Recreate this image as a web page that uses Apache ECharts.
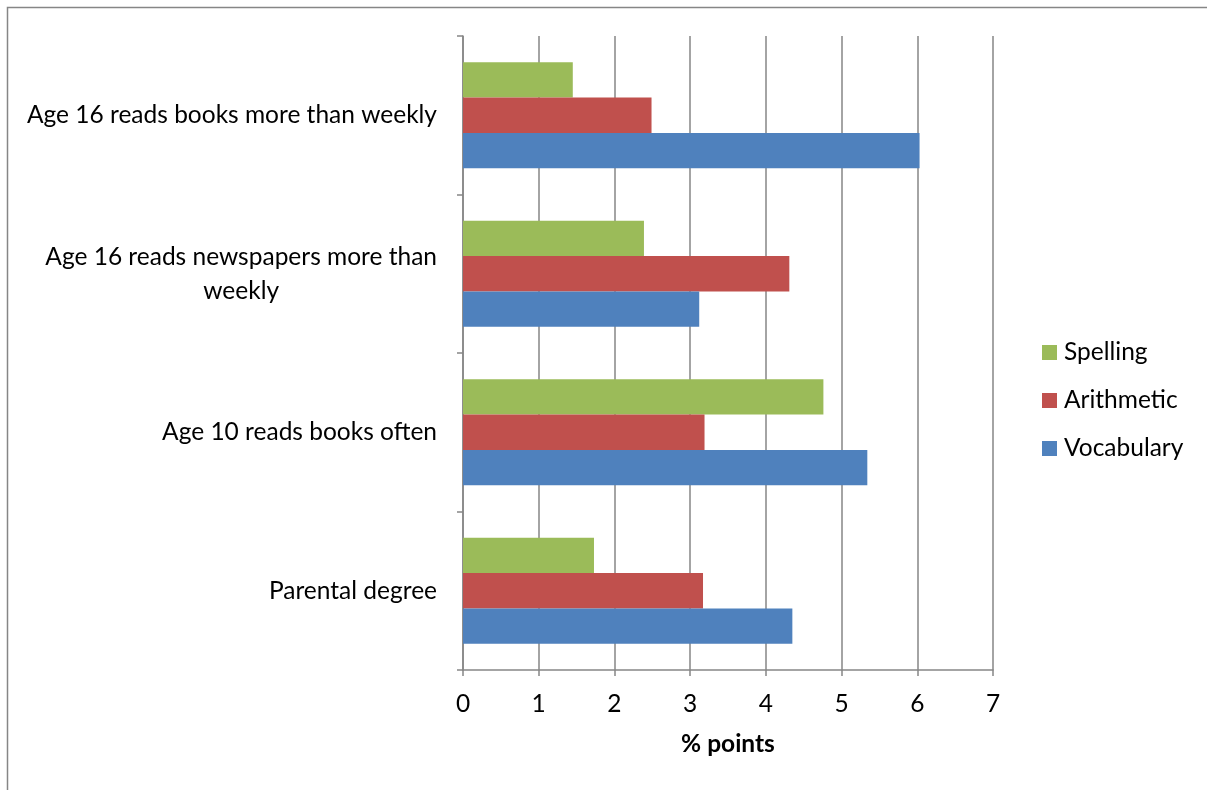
<!DOCTYPE html>
<html>
<head>
<meta charset="utf-8">
<script src="https://cdn.jsdelivr.net/npm/echarts@6/dist/echarts.min.js"></script>
<style>
  html, body { margin: 0; padding: 0; background: #fff; }
  #chart { width: 1207px; height: 790px; }
</style>
</head>
<body>
<div id="chart"></div>
<script>
// categories bottom to top
var categories = ['Parental degree', 'Age 10 reads books often', 'Age 16 reads newspapers more than weekly', 'Age 16 reads books more than weekly']
var vocabulary = [4.35, 5.34, 3.12, 6.03]
var arithmetic = [3.17, 3.19, 4.31, 2.49]
var spelling = [1.73, 4.76, 2.39, 1.45]
var legendNames = ['Spelling', 'Arithmetic', 'Vocabulary']

var FONT = 'Lato'
var FS = 24.5
var grey = '#868686'

var chart = echarts.init(document.getElementById('chart'))

var option = {
  animation: false,
  // first series is drawn on top within a category
  color: ['#9BBB59', '#C0504D', '#4F81BD'],
  textStyle: { fontFamily: FONT },
  graphic: [{
    type: 'rect',
    shape: { x: 7.5, y: 7.5, width: 1400, height: 1000 },
    style: { fill: 'none', stroke: grey, lineWidth: 1.5 },
    silent: true
  }],
  grid: { left: 463, right: 214, top: 36, bottom: 120 },
  legend: {
    orient: 'vertical',
    left: 1037,
    top: 335,
    itemWidth: 15,
    itemHeight: 15,
    itemGap: 23,
    icon: 'rect',
    data: legendNames,
    textStyle: { fontFamily: FONT, fontSize: FS, lineHeight: 24, color: '#000', padding: [0, 0, 0, 2] }
  },
  xAxis: {
    type: 'value',
    min: 0,
    max: 7,
    interval: 1,
    name: '% points',
    nameLocation: 'middle',
    nameGap: 62,
    nameTextStyle: { fontFamily: FONT, fontSize: FS, fontWeight: 'bold', color: '#000' },
    axisLine: { show: true, lineStyle: { color: grey, width: 1.5 } },
    axisTick: { show: true, length: 6, lineStyle: { color: grey, width: 1.5 } },
    axisLabel: { fontFamily: FONT, fontSize: FS, color: '#000', margin: 22 },
    splitLine: { show: true, lineStyle: { color: grey, width: 1.5 } }
  },
  yAxis: {
    type: 'category',
    data: categories,
    axisLine: { show: true, lineStyle: { color: grey, width: 1.5 } },
    axisTick: { show: true, length: 6, lineStyle: { color: grey, width: 1.5 } },
    axisLabel: {
      fontFamily: FONT,
      fontSize: FS,
      color: '#000',
      margin: 26,
      lineHeight: 34,
      formatter: function (v) {
        if (v === 'Age 16 reads newspapers more than weekly') {
          return '{c|Age 16 reads newspapers more than}\n{c|weekly}'
        }
        return '{c|' + v + '}'
      },
      rich: {
        c: { fontFamily: FONT, fontSize: FS, color: '#000', align: 'center', lineHeight: 34 }
      }
    }
  },
  series: [
    { name: 'Spelling', type: 'bar', data: spelling, barGap: '0%', barCategoryGap: '33%' },
    { name: 'Arithmetic', type: 'bar', data: arithmetic, barGap: '0%', barCategoryGap: '33%' },
    { name: 'Vocabulary', type: 'bar', data: vocabulary, barGap: '0%', barCategoryGap: '33%' }
  ]
}

chart.setOption(option)
</script>
</body>
</html>
